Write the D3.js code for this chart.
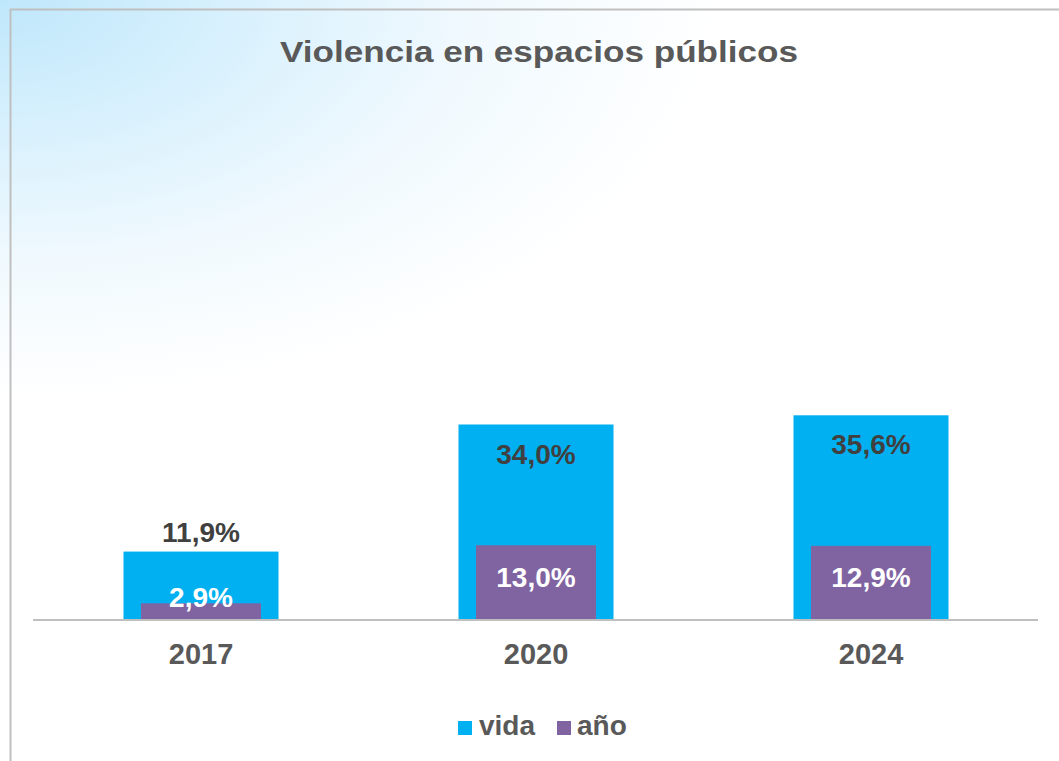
<!DOCTYPE html>
<html>
<head>
<meta charset="utf-8">
<script src="https://cdn.jsdelivr.net/npm/d3@7"></script>
<style>
  html, body { margin: 0; padding: 0; background: #ffffff; }
  svg { display: block; }
  text { font-family: "Liberation Sans", Arial, sans-serif; font-weight: bold; }
</style>
</head>
<body>
<svg id="chart" width="1059" height="761"></svg>
<script>
const title = "Violencia en espacios públicos";
const categories = ["2017", "2020", "2024"];
const vidaValues = [11.9, 34.0, 35.6];
const anioValues = [2.9, 13.0, 12.9];
const seriesNames = ["vida", "año"];
const seriesColors = ["#00b0f0", "#8064a2"];

const W = 1059, H = 761;
const svg = d3.select("#chart");

// background gradient
const defs = svg.append("defs");
const grad = defs.append("radialGradient")
  .attr("id", "bg")
  .attr("gradientUnits", "userSpaceOnUse")
  .attr("cx", 0).attr("cy", 0).attr("r", 1)
  .attr("gradientTransform", "scale(720,400)");
grad.append("stop").attr("offset", 0).attr("stop-color", "#bfe7fb");
grad.append("stop").attr("offset", 0.3).attr("stop-color", "#d6f0fd");
grad.append("stop").attr("offset", 0.65).attr("stop-color", "#f0f9fe");
grad.append("stop").attr("offset", 1).attr("stop-color", "#ffffff");
svg.append("rect").attr("x", 0).attr("y", 0).attr("width", W).attr("height", H).attr("fill", "url(#bg)");

// frame (left and top)
svg.append("line").attr("x1", 10.5).attr("x2", 10.5).attr("y1", 9).attr("y2", H)
  .attr("stroke", "#bfbfbf").attr("stroke-width", 2);
svg.append("line").attr("x1", 10).attr("x2", W).attr("y1", 9.5).attr("y2", 9.5)
  .attr("stroke", "#bfbfbf").attr("stroke-width", 2);

// title
svg.append("text").attr("x", 539).attr("y", 62).attr("text-anchor", "middle")
  .attr("fill", "#595959").style("font-size", "29px")
  .attr("textLength", 518).attr("lengthAdjust", "spacingAndGlyphs")
  .text(title);

const base = 620;
const x = d3.scaleBand().domain(categories).range([33.5, 1038.5]).padding(0);
const y = d3.scaleLinear().domain([0, 40]).range([base, 390]);
const vidaW = 155, anioW = 120;

const g = svg.append("g");

// vida bars
g.selectAll("rect.vida").data(categories).enter().append("rect")
  .attr("class", "vida")
  .attr("x", d => x(d) + x.bandwidth() / 2 - vidaW / 2)
  .attr("width", vidaW)
  .attr("y", (d, i) => y(vidaValues[i]))
  .attr("height", (d, i) => base - y(vidaValues[i]))
  .attr("fill", seriesColors[0]);

// año bars
g.selectAll("rect.anio").data(categories).enter().append("rect")
  .attr("class", "anio")
  .attr("x", d => x(d) + x.bandwidth() / 2 - anioW / 2)
  .attr("width", anioW)
  .attr("y", (d, i) => y(anioValues[i]))
  .attr("height", (d, i) => base - y(anioValues[i]))
  .attr("fill", seriesColors[1]);

const fmt = v => v.toFixed(1).replace(".", ",") + "%";

// vida labels
g.selectAll("text.vl").data(categories).enter().append("text")
  .attr("x", d => x(d) + x.bandwidth() / 2)
  .attr("y", (d, i) => {
    const top = y(vidaValues[i]);
    return (base - top) > 100 ? top + 39 : top - 10;
  })
  .attr("text-anchor", "middle").attr("fill", "#404040")
  .style("font-size", "28px")
  .text((d, i) => fmt(vidaValues[i]));

// año labels
g.selectAll("text.al").data(categories).enter().append("text")
  .attr("x", d => x(d) + x.bandwidth() / 2)
  .attr("y", (d, i) => {
    const top = y(anioValues[i]);
    return Math.min((top + base) / 2 + 4, base - 13);
  })
  .attr("text-anchor", "middle").attr("fill", "#ffffff")
  .style("font-size", "28px")
  .text((d, i) => fmt(anioValues[i]));

// axis
const axis = svg.append("g").attr("transform", `translate(0,${base})`)
  .call(d3.axisBottom(x).tickSize(0).tickPadding(0));
axis.select(".domain").attr("stroke", "#bfbfbf").attr("stroke-width", 2)
  .attr("d", `M33,0H1038`);
axis.selectAll(".tick text")
  .attr("y", 44).attr("dy", 0)
  .attr("fill", "#595959")
  .style("font-size", "29px")
  .style("font-family", "'Liberation Sans', Arial, sans-serif")
  .style("font-weight", "bold");

// legend
const legendItems = [
  {name: seriesNames[0], color: seriesColors[0], sx: 458, tx: 479},
  {name: seriesNames[1], color: seriesColors[1], sx: 557, tx: 577}
];
const lg = svg.append("g");
lg.selectAll("rect").data(legendItems).enter().append("rect")
  .attr("x", d => d.sx).attr("y", 721).attr("width", 14).attr("height", 14)
  .attr("fill", d => d.color);
lg.selectAll("text").data(legendItems).enter().append("text")
  .attr("x", d => d.tx).attr("y", 735)
  .attr("fill", "#595959").style("font-size", "28px")
  .text(d => d.name);
</script>
</body>
</html>
